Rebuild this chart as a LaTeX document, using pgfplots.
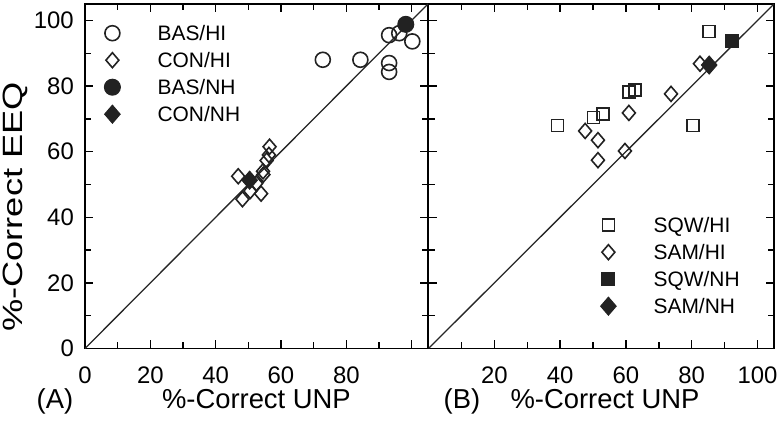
\documentclass[border=0pt]{standalone}
\usepackage{fontspec}
\setmainfont{Liberation Sans}
\usepackage{pgfplots}
\pgfplotsset{compat=1.18}
\definecolor{mk}{HTML}{222222}
\pgfplotsset{
  common/.style={
    scale only axis,
    xmin=0,xmax=105,ymin=0,ymax=105,
    tick align=inside,
    major tick length=8bp, minor tick length=6bp,
    minor tick num=1,
    axis line style={line width=1.8bp},
    every tick/.style={line width=1.4bp, black},
    /pgf/number format/assume math mode=true,
    tick label style={font=\fontsize{24}{24}\selectfont},
    xticklabel style={inner sep=0pt, yshift=-18bp},
    yticklabel style={inner sep=0pt, xshift=-11bp},
    legend cell align=left,
    legend style={draw=none, fill=none, inner sep=0pt, column sep=37bp, row sep=0pt,
      font=\fontsize{21}{21}\selectfont,
      nodes={inner sep=0pt, text height=21bp, text depth=6bp}},
    legend image code/.code={\draw[##1] plot coordinates {(0bp,0bp)}; \path (-8bp,0bp) (8bp,0bp);},
  },
  openmk/.style={only marks, mk, mark options={line width=1.6bp, draw=mk}},
  fillmk/.style={only marks, mk, mark options={line width=1bp, draw=mk, fill=mk}},
  wide/.style={every mark/.append style={xscale=1.15}},
}
\begin{document}
\begin{tikzpicture}
\begin{axis}[common, at={(85bp,78.5bp)}, anchor=south west, width=343bp, height=344.5bp,
  xtick={0,20,...,100}, xticklabels={0,20,40,60,80,{}}, ytick={0,20,...,100},
  legend style={at={(0.0554,0.955)}, anchor=north west}]
\addplot[forget plot, line width=1.3bp, black!85] coordinates {(0,0) (105,105)};
\addplot[openmk, mark=o, mark size=7.5bp] coordinates {
(72.8,88.0) (84.3,88.0) (93.1,95.5) (96.2,96.1) (93.1,87.0) (93.1,84.3) (100.2,93.6)};
\addlegendentry{BAS/HI}
\addplot[openmk, wide, mark=diamond, mark size=7.5bp] coordinates {
(56.5,61.5) (56.3,59.0) (55.6,57.3) (54.5,54.0) (46.9,52.5) (48.2,45.5) (50.6,48.0) (53.9,47.2) (52.4,50.3) (54.6,53.0)};
\addlegendentry{CON/HI}
\addplot[fillmk, mark=*, mark size=8bp] coordinates {(98.2,98.8)};
\addlegendentry{BAS/NH}
\addplot[fillmk, wide, mark=diamond*, mark size=9bp] coordinates {(50.4,51.3)};
\addlegendentry{CON/NH}
\end{axis}
\begin{axis}[common, at={(428.5bp,78.5bp)}, anchor=south west, width=345.5bp, height=344.5bp,
  xtick={0,20,...,100}, xticklabels={{},20,40,60,80,100}, ytick={0,20,...,100}, yticklabels={},
  legend style={at={(0.4964,0.3977)}, anchor=north west}]
\addplot[forget plot, line width=1.3bp, black!85] coordinates {(0,0) (105,105)};
\addplot[openmk, mark=square, mark size=6bp] coordinates {
(85.3,96.6) (39.2,68.0) (50.1,70.4) (53.0,71.4) (60.9,78.2) (62.7,78.7) (80.3,68.0)};
\addlegendentry{SQW/HI}
\addplot[openmk, wide, mark=diamond, mark size=7.5bp] coordinates {
(47.6,66.3) (51.5,63.5) (51.5,57.4) (59.7,60.2) (60.9,71.8) (73.7,77.6) (82.5,86.8)};
\addlegendentry{SAM/HI}
\addplot[fillmk, mark=square*, mark size=6.5bp] coordinates {(92.1,93.7)};
\addlegendentry{SQW/NH}
\addplot[fillmk, wide, mark=diamond*, mark size=9bp] coordinates {(85.3,86.4)};
\addlegendentry{SAM/NH}
\end{axis}
\node[anchor=base, inner sep=0pt, font=\fontsize{28}{28}\selectfont, rotate=90, xscale=1.3] at (22bp,220bp) {\%-Correct EEQ};
\node[anchor=base, inner sep=0pt, font=\fontsize{27.5}{28}\selectfont] at (256.4bp,19bp) {\%-Correct UNP};
\node[anchor=base, inner sep=0pt, font=\fontsize{27.5}{28}\selectfont] at (55bp,19bp) {(A)};
\node[anchor=base, inner sep=0pt, font=\fontsize{27.5}{28}\selectfont] at (462bp,19bp) {(B)};
\node[anchor=base, inner sep=0pt, font=\fontsize{27.5}{28}\selectfont] at (605bp,19bp) {\%-Correct UNP};
\pgfresetboundingbox
\useasboundingbox (0,0) rectangle (777bp,427bp);
\end{tikzpicture}
\end{document}
